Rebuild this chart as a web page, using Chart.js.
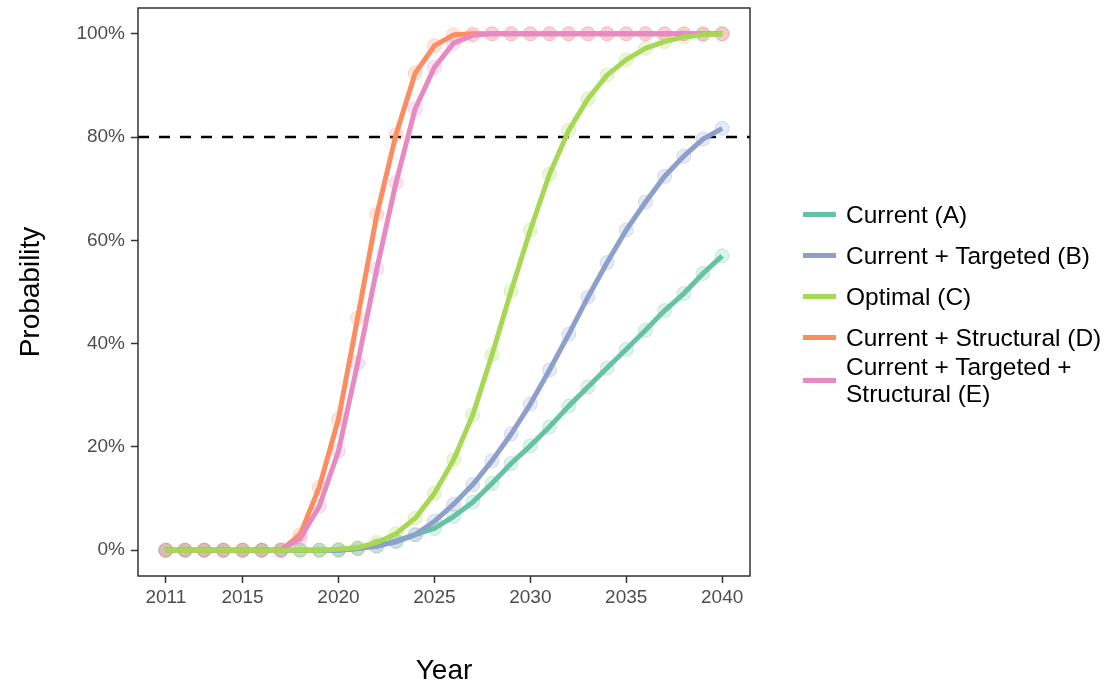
<!DOCTYPE html>
<html>
<head>
<meta charset="utf-8">
<script src="https://cdn.jsdelivr.net/npm/chart.js@4.4.0/dist/chart.umd.min.js"></script>
<style>
    body { margin: 0; background: #fff; font-family: "Liberation Sans", Arial, Helvetica, sans-serif; }
    #wrap { position: relative; width: 1120px; height: 690px; }
    #legend { position: absolute; left: 803px; top: 194px; }
    .item { display: flex; align-items: center; height: 41px; }
    .item.two { height: 56px; margin-top: -6px; }
    .key { width: 33px; height: 5px; margin-right: 10px; flex: none; }
    .item span { font-size: 24.5px; line-height: 27px; color: #000; }
</style>
</head>
<body>
<div id="wrap">
    <canvas id="bieudo" width="1120" height="690"></canvas>
    <div id="legend"></div>
</div>
<script>
// Du lieu
var years = [2011, 2012, 2013, 2014, 2015, 2016, 2017, 2018, 2019, 2020,
             2021, 2022, 2023, 2024, 2025, 2026, 2027, 2028, 2029, 2030,
             2031, 2032, 2033, 2034, 2035, 2036, 2037, 2038, 2039, 2040];
var xTicks = [2011, 2015, 2020, 2025, 2030, 2035, 2040];
var yTicks = [0, 20, 40, 60, 80, 100];
var target = 80;

var seriesNames = ['Current (A)', 'Current + Targeted (B)', 'Optimal (C)',
                   'Current + Structural (D)', ['Current + Targeted +', 'Structural (E)']];
var colors = ['#66c2a5', '#8da0cb', '#a6d854', '#fc8d62', '#e78ac3'];

var current    = [0, 0, 0, 0, 0, 0, 0, 0, 0, 0,
                  0.3, 0.8, 1.8, 3.0, 4.2, 6.5, 9.3, 12.9, 16.8, 20.2,
                  23.9, 27.9, 31.6, 35.3, 38.9, 42.6, 46.4, 49.7, 53.6, 57.0];
var targeted   = [0, 0, 0, 0, 0, 0, 0, 0, 0, 0,
                  0.3, 0.8, 1.6, 3.0, 5.6, 8.9, 12.7, 17.3, 22.5, 28.3,
                  34.9, 41.8, 49.0, 55.7, 62.0, 67.4, 72.4, 76.3, 79.6, 81.7];
var optimal    = [0, 0, 0, 0, 0, 0, 0, 0, 0, 0.2,
                  0.5, 1.5, 3.2, 6.2, 11.0, 17.5, 26.2, 37.8, 50.2, 62.0,
                  72.8, 81.3, 87.4, 92.0, 95.0, 97.2, 98.5, 99.4, 99.8, 100];
var structural = [0, 0, 0, 0, 0, 0, 0, 3.0, 12.2, 25.4,
                  45.0, 65.0, 80.5, 92.4, 97.7, 99.8, 100, 100, 100, 100,
                  100, 100, 100, 100, 100, 100, 100, 100, 100, 100];
var combined   = [0, 0, 0, 0, 0, 0, 0, 2.2, 8.5, 19.2,
                  36.2, 54.5, 71.2, 85.5, 93.5, 98.2, 99.7, 100, 100, 100,
                  100, 100, 100, 100, 100, 100, 100, 100, 100, 100];

var allSeries = [current, targeted, optimal, structural, combined];
// thu tu ve: so lon ve truoc
var lineOrder = [5, 4, 1, 3, 2];
var pointOrder = [15, 14, 13, 12, 11];

function rgba(hex, a) {
    var r = parseInt(hex.substr(1, 2), 16);
    var g = parseInt(hex.substr(3, 2), 16);
    var b = parseInt(hex.substr(5, 2), 16);
    return 'rgba(' + r + ',' + g + ',' + b + ',' + a + ')';
}

var datasets = [];
allSeries.forEach((s, i) => {
    var pts = years.map((y, k) => ({ x: y, y: s[k] }));
    datasets.push({
        data: pts,
        showLine: false,
        pointRadius: 7,
        pointBackgroundColor: rgba(colors[i], 0.22),
        pointBorderColor: rgba(colors[i], 0.3),
        pointBorderWidth: 1,
        order: pointOrder[i]
    });
    datasets.push({
        data: pts,
        borderColor: colors[i],
        borderWidth: 5,
        pointRadius: 0,
        fill: false,
        tension: 0,
        borderJoinStyle: 'round',
        order: lineOrder[i]
    });
});

var khungPlugin = {
    id: 'khung',
    beforeDatasetsDraw(chart) {
        var ctx = chart.ctx, a = chart.chartArea;
        var y = chart.scales.y.getPixelForValue(target);
        ctx.save();
        ctx.strokeStyle = '#000';
        ctx.lineWidth = 2.5;
        ctx.setLineDash([11, 10]);
        ctx.beginPath();
        ctx.moveTo(a.left, y);
        ctx.lineTo(a.right, y);
        ctx.stroke();
        ctx.restore();
    },
    afterDraw(chart) {
        var ctx = chart.ctx, a = chart.chartArea;
        ctx.save();
        ctx.strokeStyle = '#333';
        ctx.lineWidth = 1.5;
        ctx.strokeRect(a.left, a.top, a.right - a.left, a.bottom - a.top);
        ctx.restore();
    }
};

var tickFont = { family: '"Liberation Sans", Arial, sans-serif', size: 19 };
var titleFont = { family: '"Liberation Sans", Arial, sans-serif', size: 28 };

function noPad(scale) {
    scale.paddingTop = 0; scale.paddingBottom = 0;
    scale.paddingLeft = 0; scale.paddingRight = 0;
}

new Chart(document.getElementById('bieudo'), {
    type: 'line',
    data: { datasets: datasets },
    options: {
        responsive: false,
        animation: false,
        layout: { padding: { left: 0, top: 6, right: 370, bottom: 0 } },
        plugins: { legend: { display: false }, tooltip: { enabled: false } },
        scales: {
            x: {
                type: 'linear',
                min: 2009.55,
                max: 2041.45,
                afterBuildTicks: s => { s.ticks = xTicks.map(v => ({ value: v })); },
                afterFit: s => { s.height = 114; noPad(s); },
                grid: { drawOnChartArea: false, drawTicks: true, tickLength: 7, tickColor: '#333', tickWidth: 1.5 },
                border: { display: false },
                ticks: { color: '#4d4d4d', font: tickFont, padding: 3, maxRotation: 0, callback: v => String(v) },
                title: { display: true, text: 'Year', color: '#000', font: titleFont, padding: { top: 0, bottom: 2 } }
            },
            y: {
                min: -5,
                max: 105,
                afterBuildTicks: s => { s.ticks = yTicks.map(v => ({ value: v })); },
                afterFit: s => { s.width = 138; noPad(s); },
                grid: { drawOnChartArea: false, drawTicks: true, tickLength: 7, tickColor: '#333', tickWidth: 1.5 },
                border: { display: false },
                ticks: { color: '#4d4d4d', font: tickFont, padding: 6, callback: v => v + '%' },
                title: { display: true, text: 'Probability', color: '#000', font: titleFont, padding: { top: 14, bottom: 0 } }
            }
        }
    },
    plugins: [khungPlugin]
});

// Chu thich
var html = '';
seriesNames.forEach((n, i) => {
    var two = Array.isArray(n);
    var text = two ? n.join('<br>') : n;
    html += `<div class="item${two ? ' two' : ''}">
        <div class="key" style="background:${colors[i]}"></div><span>${text}</span></div>`;
});
document.getElementById('legend').innerHTML = html;
</script>
</body>
</html>
